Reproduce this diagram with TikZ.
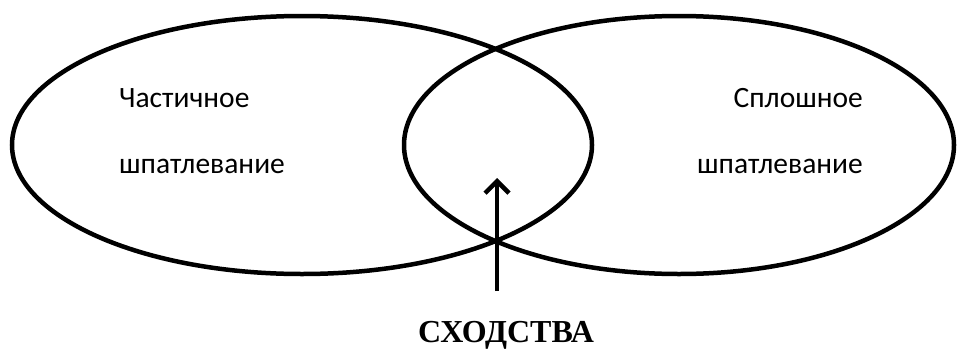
\documentclass[tikz,border=0pt]{standalone}
\usepackage{fontspec}
\newfontfamily\calibfont{Carlito}
\newfontfamily\timesfont{Liberation Serif}
\usetikzlibrary{arrows.meta,shapes.geometric}

\begin{document}
\begin{tikzpicture}[x=1pt, y=-1pt,
    setshape/.style={ellipse, draw=black, line width=4.5pt, inner sep=0pt, outer sep=0pt},
    settext/.style={font=\calibfont\fontsize{29.5}{34}\selectfont, inner sep=0pt},
    simarrow/.style={line width=4.5pt, -{Straight Barb[length=12pt, width=24pt, line width=4.5pt]}}
  ]
  \useasboundingbox (0,0) rectangle (958,351);

  % two sets
  \node[setshape, minimum width=580pt, minimum height=258pt] (partial) at (302,145) {};
  \node[setshape, minimum width=550pt, minimum height=258pt] (solid) at (679,145) {};

  % set labels
  \node[settext, anchor=base west] (partialA) at (119,107) {Частичное};
  \node[settext, anchor=base west] (partialB) at (119,173) {шпатлевание};
  \node[settext, anchor=base east] (solidA) at (863,107) {Сплошное};
  \node[settext, anchor=base east] (solidB) at (863,173) {шпатлевание};

  % common part
  \node[font=\timesfont\bfseries\fontsize{32}{36}\selectfont, inner sep=0pt] (common) at (506,335) {СХОДСТВА};
  \coordinate (tail) at (497,291);
  \coordinate (tip) at (497,178);
  \draw[simarrow] (tail) -- (tip);
\end{tikzpicture}
\end{document}
